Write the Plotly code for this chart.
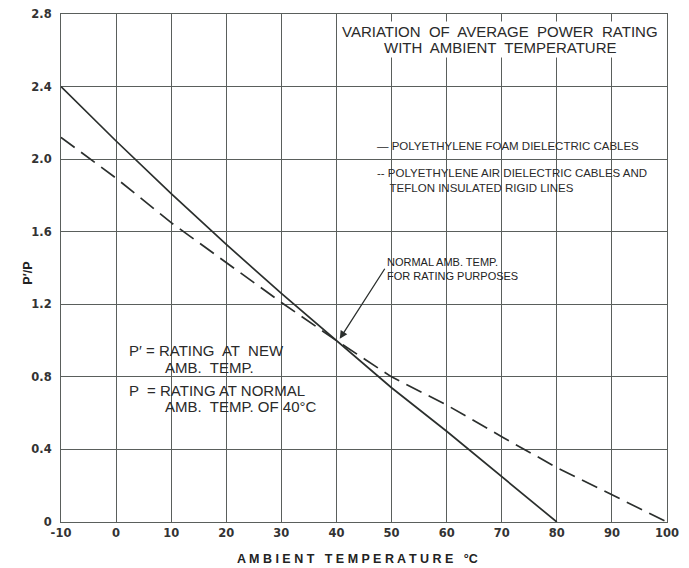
import plotly.graph_objects as go

# ambient temperature (deg C) and P'/P
temp_foam = [-10, 0, 10, 20, 30, 40, 50, 60, 70, 80]
ratio_foam = [2.40, 2.10, 1.81, 1.53, 1.26, 1.00, 0.74, 0.50, 0.25, 0.0]

temp_air = [-10, 0, 10, 20, 30, 40, 50, 60, 70, 80, 90, 100]
ratio_air = [2.12, 1.895, 1.65, 1.43, 1.21, 1.00, 0.80, 0.645, 0.47, 0.30, 0.15, 0.0]

x_ticks = [-10, 0, 10, 20, 30, 40, 50, 60, 70, 80, 90, 100]
x_labels = ["-10", "0", "10", "20", "30", "40", "50", "60", "70", "80", "90", "100"]
y_ticks = [0, 0.4, 0.8, 1.2, 1.6, 2.0, 2.4, 2.8]
y_labels = ["0", "0.4", "0.8", "1.2", "1.6", "2.0", "2.4", "2.8"]

line_col = '#2b2f2d'
grid_col = '#5a5f5c'
font = "Liberation Sans, Arial, sans-serif"

fig = go.Figure()

fig.add_trace(go.Scatter(
    x=temp_foam, y=ratio_foam, mode='lines',
    line=dict(color=line_col, width=1.7),
    name='foam'))

fig.add_trace(go.Scatter(
    x=temp_air, y=ratio_air, mode='lines',
    line=dict(color=line_col, width=1.7, dash='17px,8px'),
    name='air'))

tick_font = dict(size=11.5, color='#333', family="DejaVu Sans, sans-serif")
fig.update_xaxes(range=[-10, 100], tickvals=x_ticks,
                 ticktext=["<b>%s</b>" % t for t in x_labels],
                 showgrid=True, gridcolor=grid_col, gridwidth=1,
                 showline=True, linecolor=grid_col, linewidth=1, mirror=True,
                 zeroline=False, ticks='', tickfont=tick_font,
                 ticklabeloverflow='allow')
fig.update_yaxes(range=[0, 2.8], tickvals=y_ticks,
                 ticktext=["<b>%s</b>" % t for t in y_labels],
                 showgrid=True, gridcolor=grid_col, gridwidth=1,
                 showline=True, linecolor=grid_col, linewidth=1, mirror=True,
                 zeroline=False, ticks='', tickfont=tick_font,
                 ticklabelstandoff=6, ticklabeloverflow='allow')


def note(x, y, text, size, **kw):
    d = dict(x=x, y=y, xref='x', yref='y', showarrow=False, text=text,
             font=dict(size=size, color='#2a2a2a'), xanchor='left', yanchor='middle')
    d.update(kw)
    return d


annos = [
    dict(x=0.49, y=-0.073, xref='paper', yref='paper', showarrow=False,
         text="<b>A M B I E N T   T E M P E R A T U R E   °C</b>",
         font=dict(size=12.5, color='#222'), xanchor='center', yanchor='middle'),
    dict(x=-0.07, y=0.49, xref='paper', yref='paper', showarrow=False,
         text="<b>P′/P</b>", textangle=-90,
         font=dict(size=12.5, color='#222')),
    note(69.7, 2.705, "VARIATION  OF  AVERAGE  POWER  RATING", 15,
         xanchor='center', bgcolor='white'),
    note(69.7, 2.617, "WITH  AMBIENT  TEMPERATURE", 15,
         xanchor='center', bgcolor='white'),
    note(47, 2.07, "— POLYETHYLENE FOAM DIELECTRIC CABLES", 11.5),
    note(47, 1.97, "-- POLYETHYLENE AIR DIELECTRIC CABLES AND<br>    TEFLON INSULATED RIGID LINES",
         11.5, yanchor='top', align='left'),
    dict(x=40.6, y=1.01, xref='x', yref='y', ax=45, ay=-70, showarrow=True,
         arrowhead=2, arrowsize=1.2, arrowwidth=1.3, arrowcolor=line_col,
         text="NORMAL AMB. TEMP.<br>FOR RATING PURPOSES",
         font=dict(size=11, color='#222'), xanchor='left', yanchor='middle', align='left'),
    note(1.9, 0.948, "P′ = RATING  AT  NEW", 15),
    note(8.5, 0.854, "AMB.  TEMP.", 15),
    note(1.9, 0.727, "P  = RATING AT NORMAL", 15),
    note(8.5, 0.634, "AMB.  TEMP. OF 40°C", 15),
]

# page body adds an 8px offset, so the figure is sized to the visible area
fig.update_layout(
    width=681, height=560,
    margin=dict(l=53, r=22, t=6, b=46, autoexpand=False),
    plot_bgcolor='white', paper_bgcolor='white',
    showlegend=False,
    font=dict(family=font),
    annotations=annos)

fig.write_html("out.html")
